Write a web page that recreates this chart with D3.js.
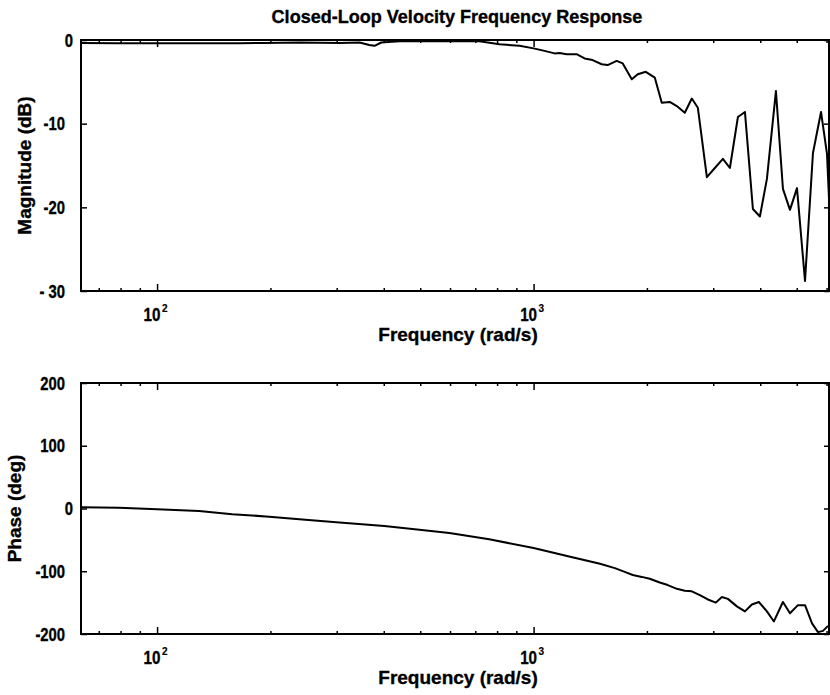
<!DOCTYPE html>
<html>
<head>
<meta charset="utf-8">
<script src="https://cdn.jsdelivr.net/npm/d3@7"></script>
<style>
  body { margin: 0; background: white; }
  text { font-family: "Liberation Sans", Arial, Helvetica, sans-serif; font-weight: bold; fill: black; stroke: black; stroke-width: 0.35px; }
</style>
</head>
<body>
<script>
const SvgWidth = 830, SvgHeight = 695;

// magnitude curve (rad/s, dB)
var magFreq = [62.8, 79.2, 101, 129, 165, 193, 239, 305, 345, 366, 378, 394, 440, 562, 718, 812, 918, 1000, 1069, 1137,
	1172, 1224, 1301, 1366, 1435, 1517, 1573, 1662, 1725, 1823, 1891, 1986, 2099, 2190, 2300, 2401, 2521, 2632, 2731, 2886,
	3030, 3183, 3322, 3489, 3642, 3824, 3991, 4166, 4402, 4595, 4797, 5007, 5259, 5521, 5800, 6016, 6090];
var magDb = [-0.35, -0.4, -0.4, -0.4, -0.4, -0.35, -0.3, -0.35, -0.3, -0.6, -0.7, -0.3, -0.15, -0.15, -0.15, -0.5, -0.7, -1.0, -1.3, -1.6,
	-1.55, -1.7, -1.7, -2.2, -2.4, -2.9, -3.0, -2.5, -2.8, -4.7, -4.1, -3.8, -4.5, -7.5, -7.4, -7.9, -8.7, -7.0, -8.1, -16.4,
	-15.3, -14.2, -15.3, -9.2, -8.6, -20.2, -21.1, -16.6, -6.1, -17.8, -20.3, -17.7, -28.8, -13.5, -8.6, -13.6, -19.0];

// phase curve (rad/s, deg)
var phFreq = [62.8, 79.2, 100, 129.3, 158.3, 198.6, 238.7, 299.2, 401.5, 497.4, 597.6, 762.4, 1000, 1251, 1501, 1644, 1746, 1834, 1938, 2035,
	2163, 2272, 2401, 2521, 2632, 2764, 2903, 3048, 3163, 3281, 3467, 3642, 3800, 3966, 4166, 4348, 4595, 4797, 5036, 5259,
	5489, 5694, 5871, 6053];
var phDeg = [2, 1, -1, -4, -9, -13, -17, -22, -28, -34, -39, -49, -63, -77, -88, -95, -101, -106, -109, -112,
	-118, -122, -128, -131, -132, -138, -145, -150, -141, -144, -156, -164, -153, -149, -164, -180, -149, -167, -154, -154,
	-183, -197, -195, -187];

var freqRange = [62.8, 6090];
var xMajor = [100, 1000], xMajorExp = ['2', '3'];
var xMinor = [70, 80, 90, 200, 300, 400, 500, 600, 700, 800, 900, 2000, 3000, 4000, 5000, 6000];
var magTicks = [0, -10, -20, -30], magTickLabels = ['0', '-10', '-20', '- 30'];
var phTicks = [200, 100, 0, -100, -200], phTickLabels = ['200', '100', '0', '-100', '-200'];

var left = 81, right = 829, plotH = 251;

var svg = d3.select('body')
			.append('svg')
			.attr('width', SvgWidth)
			.attr('height', SvgHeight)
			.style('background-color', 'white');

var x = d3.scaleLog().domain(freqRange).range([left, right]);

svg.append('text')
	.attr('transform', 'translate(457,23) scale(0.95,1)')
	.attr('text-anchor', 'middle')
	.style('font-size', '19px')
	.text('Closed-Loop Velocity Frequency Response');

function drawPanel(top, yDomain, ticks, tickLabels, yLabel, yLabelX, freqs, vals) {
	var y = d3.scaleLinear().domain(yDomain).range([top + plotH, top]);
	var clipId = 'clip' + top;
	svg.append('clipPath').attr('id', clipId)
		.append('rect').attr('x', left).attr('y', top - 2).attr('width', right - left).attr('height', plotH + 4);

	// minor + major ticks, all pointing inward
	var tick = function(g) { g.select('.domain').remove(); g.selectAll('line').attr('stroke', 'black').attr('stroke-width', 1.5); };
	svg.append('g').attr('transform', 'translate(0,' + (top + plotH) + ')')
		.call(d3.axisBottom(x).tickValues(xMinor).tickSize(-3).tickFormat('')).call(tick);
	svg.append('g').attr('transform', 'translate(0,' + (top + plotH) + ')')
		.call(d3.axisBottom(x).tickValues(xMajor).tickSize(-7).tickFormat('')).call(tick);
	svg.append('g').attr('transform', 'translate(0,' + top + ')')
		.call(d3.axisTop(x).tickValues(xMinor).tickSize(-3).tickFormat('')).call(tick);
	svg.append('g').attr('transform', 'translate(0,' + top + ')')
		.call(d3.axisTop(x).tickValues(xMajor).tickSize(-7).tickFormat('')).call(tick);
	svg.append('g').attr('transform', 'translate(' + left + ',0)')
		.call(d3.axisLeft(y).tickValues(ticks).tickSize(-6).tickFormat('')).call(tick);
	svg.append('g').attr('transform', 'translate(' + right + ',0)')
		.call(d3.axisRight(y).tickValues(ticks).tickSize(-5).tickFormat('')).call(tick);

	svg.append('rect')
		.attr('x', left).attr('y', top)
		.attr('width', right - left).attr('height', plotH)
		.attr('fill', 'none').attr('stroke', 'black').attr('stroke-width', 2);

	// y tick labels (narrow digits like the original)
	svg.selectAll(null).data(ticks).enter().append('text')
		.attr('transform', function(d) { return 'translate(' + (d === 0 ? 73 : 65) + ',' + y(d) + ') scale(0.8,1)'; })
		.attr('dy', '0.36em')
		.attr('text-anchor', 'end')
		.style('font-size', '18.5px')
		.text(function(d, i) { return tickLabels[i]; });

	// decade labels 10^n
	var base = top + plotH + 30;
	xMajor.forEach(function(f, i) {
		svg.append('text')
			.attr('transform', 'translate(' + (x(f) - 5) + ',' + base + ') scale(0.8,1)')
			.attr('text-anchor', 'middle')
			.style('font-size', '19px')
			.text('10');
		svg.append('text')
			.attr('x', x(f) + 5).attr('y', base - 9)
			.style('font-size', '10px')
			.style('stroke-width', '0.2px')
			.text(xMajorExp[i]);
	});

	svg.append('text')
		.attr('x', 458).attr('y', top + plotH + 50)
		.attr('text-anchor', 'middle')
		.style('font-size', '19px')
		.text('Frequency (rad/s)');

	svg.append('text')
		.attr('transform', 'translate(' + yLabelX + ',' + (top + plotH / 2) + ') rotate(-90)')
		.attr('text-anchor', 'middle')
		.style('font-size', '19px')
		.text(yLabel);

	var line = d3.line()
		.x(function(d) { return x(d[0]); })
		.y(function(d) { return y(d[1]); });
	svg.append('path')
		.datum(d3.zip(freqs, vals))
		.attr('clip-path', 'url(#' + clipId + ')')
		.attr('fill', 'none')
		.attr('stroke', 'black')
		.attr('stroke-width', 2)
		.attr('stroke-linejoin', 'round')
		.attr('d', line);
}

drawPanel(40, [-30, 0], magTicks, magTickLabels, 'Magnitude (dB)', 31, magFreq, magDb);
drawPanel(383, [-200, 200], phTicks, phTickLabels, 'Phase (deg)', 21, phFreq, phDeg);
</script>
</body>
</html>
